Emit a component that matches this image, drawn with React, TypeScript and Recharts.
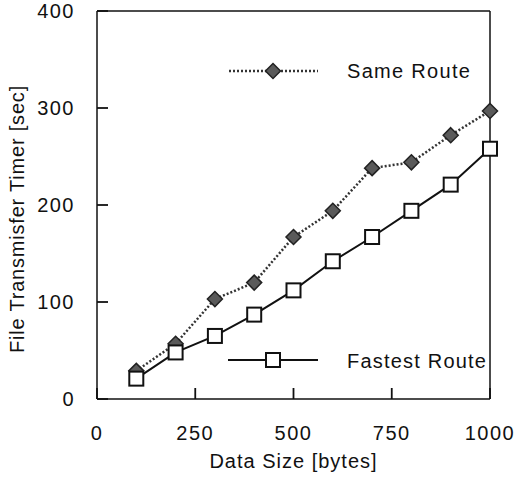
import React from "react";
import {
  LineChart,
  Line,
  XAxis,
  YAxis,
  Legend,
  ReferenceLine,
} from "recharts";

const dataSizes = [100, 200, 300, 400, 500, 600, 700, 800, 900, 1000];
const sameRoute = [29, 57, 103, 120, 167, 194, 238, 244, 272, 297];
const fastestRoute = [21, 48, 65, 87, 112, 142, 167, 194, 221, 258];

const xTicks = [0, 250, 500, 750, 1000];
const yTicks = [0, 100, 200, 300, 400];

const data = dataSizes.map((size, i) => ({
  size,
  same: sameRoute[i],
  fastest: fastestRoute[i],
}));

const FONT = "'Liberation Sans', Arial, Helvetica, sans-serif";
const INK = "#111";
const TICK_LEN = 11;
const X_GAP = 27;
const Y_GAP = 22;

const Diamond = (props: any) => {
  const { cx, cy } = props;
  if (cx == null || cy == null) return null;
  const r = 7.5;
  return (
    <polygon
      points={`${cx},${cy - r} ${cx + r},${cy} ${cx},${cy + r} ${cx - r},${cy}`}
      fill="#5a5a5a"
      stroke="#222"
      strokeWidth={1.5}
    />
  );
};

const Square = (props: any) => {
  const { cx, cy } = props;
  if (cx == null || cy == null) return null;
  const s = 14;
  return (
    <rect
      x={cx - s / 2}
      y={cy - s / 2}
      width={s}
      height={s}
      fill="#fff"
      stroke={INK}
      strokeWidth={2}
    />
  );
};

// inward tick mark + label below the axis
const XTick = (props: any) => {
  const { x, y, payload } = props;
  const axisY = y - X_GAP;
  return (
    <g>
      <line x1={x} y1={axisY} x2={x} y2={axisY - TICK_LEN} stroke={INK} strokeWidth={1.8} />
      <text
        x={x}
        y={y}
        dy="0.71em"
        textAnchor="middle"
        fontFamily={FONT}
        fontSize={20}
        letterSpacing={1.5}
        fill={INK}
      >
        {payload.value}
      </text>
    </g>
  );
};

const YTick = (props: any) => {
  const { x, y, payload } = props;
  const axisX = x + Y_GAP;
  return (
    <g>
      <line x1={axisX} y1={y} x2={axisX + TICK_LEN} y2={y} stroke={INK} strokeWidth={1.8} />
      <text
        x={x}
        y={y}
        dy="0.355em"
        textAnchor="end"
        fontFamily={FONT}
        fontSize={20}
        letterSpacing={1.5}
        fill={INK}
      >
        {payload.value}
      </text>
    </g>
  );
};

const renderYLabel = (props: any) => {
  const vb = props.viewBox || {};
  const x = vb.x + 17;
  const y = vb.y + vb.height / 2 + 14;
  return (
    <text
      x={x}
      y={y}
      transform={`rotate(-90, ${x}, ${y})`}
      textAnchor="middle"
      dominantBaseline="central"
      fontFamily={FONT}
      fontSize={20}
      letterSpacing={0.8}
      fill={INK}
    >
      File Transmisfer Timer [sec]
    </text>
  );
};

const renderLegend = () => (
  <svg width={519} height={478} style={{ display: "block" }}>
    <line x1={229} y1={71} x2={318} y2={71} stroke="#333" strokeWidth={2.5} strokeDasharray="2 2" />
    <Diamond cx={273} cy={71} />
    <text x={347} y={78} fontFamily={FONT} fontSize={20} letterSpacing={1.3} fill={INK}>
      Same Route
    </text>
    <line x1={228} y1={360} x2={318} y2={360} stroke={INK} strokeWidth={2} />
    <Square cx={273} cy={360} />
    <text x={347} y={368} fontFamily={FONT} fontSize={20} letterSpacing={1.2} fill={INK}>
      Fastest Route
    </text>
  </svg>
);

export default function App() {
  return (
    <div style={{ position: "absolute", left: 0, top: 0, background: "#fff" }}>
      <LineChart
        width={519}
        height={478}
        data={data}
        margin={{ top: 11, right: 29, bottom: 0, left: 0 }}
      >
        <XAxis
          dataKey="size"
          type="number"
          domain={[0, 1000]}
          ticks={xTicks}
          height={79}
          tickLine={false}
          tickSize={0}
          tickMargin={X_GAP}
          stroke={INK}
          strokeWidth={1.5}
          tick={<XTick />}
          label={{
            value: "Data Size [bytes]",
            position: "insideBottom",
            offset: 10,
            fill: INK,
            fontSize: 20,
            fontFamily: FONT,
            letterSpacing: 1,
          }}
        />
        <YAxis
          type="number"
          domain={[0, 400]}
          ticks={yTicks}
          width={97}
          tickLine={false}
          tickSize={0}
          tickMargin={Y_GAP}
          stroke={INK}
          strokeWidth={1.5}
          tick={<YTick />}
          label={renderYLabel}
        />
        {/* top and right edges of the frame */}
        <ReferenceLine y={400} stroke={INK} strokeWidth={1.5} />
        <ReferenceLine x={1000} stroke={INK} strokeWidth={1.5} />
        <Legend
          layout="horizontal"
          verticalAlign="middle"
          align="center"
          content={renderLegend}
          wrapperStyle={{ position: "absolute", left: 0, top: 0, width: 519, height: 478, pointerEvents: "none" }}
        />
        <Line
          dataKey="same"
          name="Same Route"
          stroke="#333"
          strokeWidth={2.5}
          strokeDasharray="2 2"
          dot={<Diamond />}
          isAnimationActive={false}
        />
        <Line
          dataKey="fastest"
          name="Fastest Route"
          stroke={INK}
          strokeWidth={2}
          dot={<Square />}
          isAnimationActive={false}
        />
      </LineChart>
    </div>
  );
}
